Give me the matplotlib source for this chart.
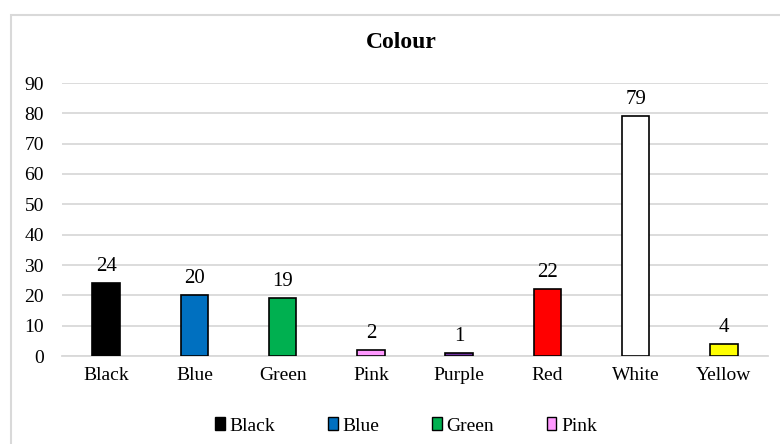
import matplotlib.pyplot as plt
from matplotlib.patches import Rectangle, Patch

# data
categories = ['Black', 'Blue', 'Green', 'Pink', 'Purple', 'Red', 'White', 'Yellow']
counts = [24, 20, 19, 2, 1, 22, 79, 4]
bar_colors = ['#000000', '#0070C0', '#00B050', '#FF99FF', '#7030A0', '#FF0000', '#FFFFFF', '#FFFF00']
legend_names = ['Black', 'Blue', 'Green', 'Pink']
yticks = [0, 10, 20, 30, 40, 50, 60, 70, 80, 90]

plt.rcParams['font.family'] = ['Liberation Serif', 'DejaVu Serif']

fig = plt.figure(figsize=(7.8, 4.44), dpi=100)
fig.patch.set_facecolor('white')

# outer chart border (cut off on right / bottom like the reference)
fig.add_artist(Rectangle((11 / 780, -0.1), 1.0, 0.1 + (1 - 15 / 444),
                         transform=fig.transFigure, fill=False,
                         edgecolor='#D9D9D9', linewidth=1.5))

ax = fig.add_axes([62 / 780, 1 - 356 / 444, 706 / 780, 273 / 444])
x = range(len(categories))
ax.bar(x, counts, width=0.31, color=bar_colors, edgecolor='black', linewidth=1.2, zorder=3)

for xi, v in zip(x, counts):
    ax.annotate(str(v), (xi, v), xytext=(0, 5), textcoords='offset points',
                ha='center', va='bottom', fontsize=15)

ax.set_ylim(0, 90)
ax.set_xlim(-0.5, len(categories) - 0.5)
ax.set_yticks(yticks)
ax.set_xticks(list(x))
ax.set_xticklabels(categories)
ax.tick_params(axis='both', length=0, labelsize=14)
ax.tick_params(axis='x', pad=8)
ax.tick_params(axis='y', pad=13)

ax.grid(axis='y', color='#D9D9D9', linewidth=1.3, zorder=0)
for s in ['top', 'right', 'left']:
    ax.spines[s].set_visible(False)
ax.spines['bottom'].set_color('#D9D9D9')
ax.spines['bottom'].set_linewidth(1.3)

fig.text(401 / 780, 1 - 43 / 444, 'Colour', fontsize=17, fontweight='bold',
         ha='center', va='center')

handles = [Patch(facecolor=c, edgecolor='black', linewidth=1) for c in bar_colors[:4]]
fig.legend(handles, legend_names, loc='center', bbox_to_anchor=(406 / 780, 1 - 426 / 444),
           ncol=4, frameon=False, fontsize=14, handlelength=0.5, handleheight=0.6,
           handletextpad=0.25, columnspacing=2.7)

fig.savefig('out.png', dpi=100)
